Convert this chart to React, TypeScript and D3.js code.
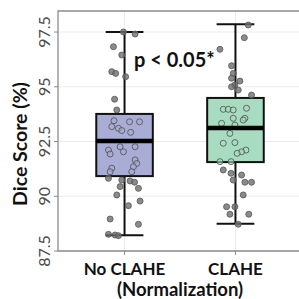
import React from "react";
import * as d3 from "d3";

// categories and box statistics
const categories = ["No CLAHE", "CLAHE"];
const boxFill = ["#a9acd5", "#a7dcc0"];
const whiskerLow = [88.22, 88.75];
const q1 = [90.92, 91.56];
const median = [92.52, 93.12];
const q3 = [93.76, 94.49];
const whiskerHigh = [97.5, 97.85];

const yTicks = [87.5, 90, 92.5, 95, 97.5];

// jittered observations (value, horizontal jitter in category units)
const noClaheScores = [
  97.5, 97.41, 96.83, 96.45, 95.69, 95.61, 95.46, 94.43, 93.94,
  93.45, 93.4, 93.4, 93.18, 93.1, 93.0, 92.92, 92.26, 92.11, 92.03, 92.26, 91.93, 91.66, 91.5, 91.35, 91.28, 91.12, 91.12,
  90.82, 90.74, 90.7, 90.64, 90.44, 90.36, 90.06, 89.78, 89.57, 88.96, 88.72, 88.26, 88.23, 88.2,
];
const noClaheJitter = [
  -0.01, 0.095, -0.1, -0.025, -0.115, -0.08, 0.01, -0.09, -0.07,
  -0.095, 0.045, 0.135, -0.115, -0.055, -0.025, 0.055, -0.04, -0.145, -0.01, 0.095, -0.13, 0.095, 0.11, 0.08, -0.115, 0.065, -0.13,
  -0.145, -0.025, 0.05, 0.09, -0.04, 0.125, -0.07, 0.14, 0.035, -0.13, 0.125, -0.145, -0.085, -0.055,
];
const claheScores = [
  97.82, 97.24, 96.71, 95.96, 95.61, 95.39, 95.26, 95.08, 95.0, 94.85, 94.62,
  93.97, 93.97, 93.94, 94.02, 93.56, 93.56, 93.48, 93.33, 93.25, 92.87, 92.42, 92.45, 92.11, 92.03, 91.96,
  91.58, 91.58, 91.2, 91.05, 90.97, 90.74, 90.64, 90.64, 90.06, 89.52, 89.52, 89.18, 89.18, 88.72,
];
const claheJitter = [
  0.115, 0.08, -0.14, -0.035, -0.02, -0.035, 0.04, -0.005, -0.035, 0.025, 0.145,
  -0.11, -0.065, -0.02, 0.1, 0.085, -0.02, 0.07, -0.125, -0.005, -0.05, -0.11, -0.005, 0.095, 0.055, 0.015,
  -0.14, -0.04, -0.11, -0.04, 0.055, -0.02, 0.085, 0.145, 0.07, -0.08, -0.005, -0.05, 0.12, 0.025,
];

const scores = [noClaheScores, claheScores];
const jitter = [noClaheJitter, claheJitter];

const width = 299;
const height = 299;
const panel = { left: 58, right: 302, top: 11, bottom: 251 };
const font = "Lato, 'Liberation Sans', sans-serif";

export default function App() {
  // discrete axis as ggplot does it: positions 1..n, expanded by 0.6
  const x = d3.scaleLinear().domain([0.4, categories.length + 0.6]).range([panel.left, panel.right]);
  const y = d3.scaleLinear().domain([87.5, 98.46]).range([panel.bottom, panel.top]);
  const boxHalf = 0.255;
  const capHalf = 0.17;

  return (
    <svg width={width} height={height} style={{ position: "absolute", left: 0, top: 0 }}>
      <rect x={0} y={0} width={width} height={height} fill="#fff" />
      {/* grid */}
      {yTicks.map(t => (
        <line key={"gy" + t} x1={panel.left} x2={panel.right} y1={y(t)} y2={y(t)} stroke="#ebebeb" strokeWidth={1} />
      ))}
      {categories.map((c, i) => (
        <line key={"gx" + c} x1={x(i + 1)} x2={x(i + 1)} y1={panel.top} y2={panel.bottom} stroke="#ebebeb" strokeWidth={1} />
      ))}
      {/* panel border */}
      <path
        d={`M${panel.right},${panel.top}H${panel.left}V${panel.bottom}H${panel.right}`}
        fill="none"
        stroke="#8c8c8c"
        strokeWidth={1.3}
      />
      {/* ticks */}
      {yTicks.map(t => (
        <line key={"ty" + t} x1={panel.left - 4} x2={panel.left} y1={y(t)} y2={y(t)} stroke="#8c8c8c" strokeWidth={1} />
      ))}
      {categories.map((c, i) => (
        <line key={"tx" + c} x1={x(i + 1)} x2={x(i + 1)} y1={panel.bottom} y2={panel.bottom + 4} stroke="#8c8c8c" strokeWidth={1} />
      ))}
      {/* boxes */}
      {categories.map((c, i) => {
        const cx = x(i + 1);
        const x0 = x(i + 1 - boxHalf);
        const x1 = x(i + 1 + boxHalf);
        return (
          <g key={"box" + c}>
            <line x1={cx} x2={cx} y1={y(whiskerHigh[i])} y2={y(q3[i])} stroke="#111" strokeWidth={2} />
            <line x1={cx} x2={cx} y1={y(q1[i])} y2={y(whiskerLow[i])} stroke="#111" strokeWidth={2} />
            <line x1={x(i + 1 - capHalf)} x2={x(i + 1 + capHalf)} y1={y(whiskerHigh[i])} y2={y(whiskerHigh[i])} stroke="#111" strokeWidth={2} />
            <line x1={x(i + 1 - capHalf)} x2={x(i + 1 + capHalf)} y1={y(whiskerLow[i])} y2={y(whiskerLow[i])} stroke="#111" strokeWidth={2} />
            <rect x={x0} y={y(q3[i])} width={x1 - x0} height={y(q1[i]) - y(q3[i])} fill={boxFill[i]} stroke="#111" strokeWidth={2} />
          </g>
        );
      })}
      {/* points */}
      {categories.map((c, i) =>
        scores[i].map((v, k) => {
          const inside = v > q1[i] && v < q3[i];
          return (
            <circle
              key={c + k}
              cx={x(i + 1 + jitter[i][k])}
              cy={y(v)}
              r={3}
              fill={inside ? boxFill[i] : "#6e6e6e"}
              fillOpacity={inside ? 0.6 : 0.8}
              stroke={inside ? "#555" : "#5a5a5a"}
              strokeOpacity={0.85}
              strokeWidth={1}
            />
          );
        }),
      )}
      {/* medians */}
      {categories.map((c, i) => (
        <line
          key={"med" + c}
          x1={x(i + 1 - boxHalf)}
          x2={x(i + 1 + boxHalf)}
          y1={y(median[i])}
          y2={y(median[i])}
          stroke="#000"
          strokeWidth={4.5}
        />
      ))}
      {/* y tick labels */}
      {yTicks.map(t => (
        <text
          key={"ly" + t}
          transform={`translate(${panel.left - 8},${y(t)}) rotate(-90)`}
          textAnchor="middle"
          fontFamily={font}
          fontSize={16}
          fill="#4d4d4d"
        >
          {t}
        </text>
      ))}
      {/* x tick labels */}
      {categories.map((c, i) => (
        <text key={"lx" + c} x={x(i + 1)} y={275} textAnchor="middle" fontFamily={font} fontWeight="bold" fontSize={17} fill="#111">
          {c}
        </text>
      ))}
      <text x={(panel.left + panel.right) / 2} y={296} textAnchor="middle" fontFamily={font} fontWeight="bold" fontSize={18.5} fill="#111">
        (Normalization)
      </text>
      <text
        transform={`translate(27,${(panel.top + panel.bottom) / 2 + 13}) rotate(-90)`}
        textAnchor="middle"
        fontFamily={font}
        fontWeight="bold"
        fontSize={19.5}
        fill="#111"
      >
        Dice Score (%)
      </text>
      <text x={134} y={67} fontFamily={font} fontWeight="bold" fontSize={20} fill="#111">
        p &lt; 0.05*
      </text>
    </svg>
  );
}
